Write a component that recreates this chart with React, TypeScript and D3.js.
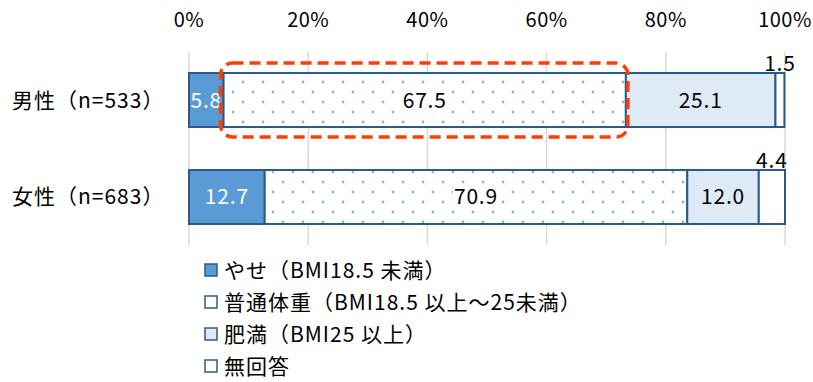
import React from "react";
import * as d3 from "d3";

const categories = ["男性（n=533）", "女性（n=683）"];
const seriesNames = ["やせ（BMI18.5 未満）", "普通体重（BMI18.5 以上～25未満）", "肥満（BMI25 以上）", "無回答"];
const yase = [5.8, 12.7];
const futsu = [67.5, 70.9];
const himan = [25.1, 12.0];
const mukaitou = [1.5, 4.4];
const tickValues = [0, 20, 40, 60, 80, 100];

const W = 813;
const H = 382;
const FONT = "'Noto Sans CJK JP', 'Noto Sans', sans-serif";
const STROKE = "#2B5A8A";

export default function App() {
  const x = d3.scaleLinear().domain([0, 100]).range([189, 785]);
  const y = d3.scaleBand().domain(categories).range([52, 245]).paddingInner(0.443).paddingOuter(0.2165);
  const series = [yase, futsu, himan, mukaitou];
  const fills = ["#5B9BD5", "url(#dots)", "#DEEBF7", "#FFFFFF"];
  const labelColors = ["#FFFFFF", "#000000", "#000000", "#000000"];

  const rows = categories.map((c, i) => {
    let acc = 0;
    return series.map((s, k) => {
      const v = s[i];
      const seg = { c, k, x0: acc, x1: acc + v, v };
      acc += v;
      return seg;
    });
  });

  const bw = y.bandwidth();
  const maleIdx = 0;
  const hl = rows[maleIdx][1];
  const hy = y(categories[maleIdx])!;

  return (
    <svg width={W} height={H} style={{ position: "absolute", left: 0, top: 0, background: "#fff" }}>
      <defs>
        <pattern id="dots" width={20} height={20} patternUnits="userSpaceOnUse" x={0} y={2}>
          <rect width={20} height={20} fill="#fff" />
          <circle cx={3} cy={0} r={1.4} fill="#86B6E4" />
          <circle cx={13} cy={10} r={1.4} fill="#86B6E4" />
          <circle cx={3} cy={20} r={1.4} fill="#86B6E4" />
        </pattern>
      </defs>
      {tickValues.map((t) => (
        <g key={t}>
          <line x1={x(t)} x2={x(t)} y1={52} y2={245} stroke="#D9D9D9" strokeWidth={1.5} />
          <text x={x(t)} y={27} textAnchor="middle" fontFamily={FONT} fontSize={20} letterSpacing={0.5} fill="#000">
            {t}%
          </text>
        </g>
      ))}
      {categories.map((c) => (
        <text key={c} x={12} y={y(c)! + bw / 2 + 7.5} fontFamily={FONT} fontSize={21} letterSpacing={1} fill="#000">
          {c}
        </text>
      ))}
      {rows.map((segs, i) =>
        segs.map((s) => (
          <rect
            key={`${i}-${s.k}`}
            x={x(s.x0)}
            y={y(s.c)!}
            width={x(s.x1) - x(s.x0)}
            height={bw}
            fill={fills[s.k]}
            stroke={STROKE}
            strokeWidth={2}
          />
        ))
      )}
      {rows.map((segs, i) =>
        segs.map((s) => {
          const label = s.v.toFixed(1);
          const isOutside = s.k === 3;
          const cx = (x(s.x0) + x(s.x1)) / 2;
          const cy = y(s.c)! + bw / 2;
          return (
            <g key={`l${i}-${s.k}`}>
              {s.k === 1 && <rect x={cx - 23} y={cy - 13} width={46} height={26} fill="#fff" />}
              <text
                x={cx}
                y={isOutside ? y(s.c)! - 1.5 : cy + 7.5}
                textAnchor="middle"
                fontFamily={FONT}
                fontSize={21}
                letterSpacing={0.8}
                fill={labelColors[s.k]}
              >
                {label}
              </text>
            </g>
          );
        })
      )}
      <rect
        x={x(hl.x0) - 3}
        y={hy - 10}
        width={x(hl.x1) - x(hl.x0) + 5}
        height={bw + 20}
        rx={12}
        ry={12}
        fill="none"
        stroke="#FF3D00"
        strokeWidth={3.5}
        strokeDasharray="11 6"
      />
      {seriesNames.map((n, k) => (
        <g key={n} transform={`translate(205, ${270 + k * 32})`}>
          <rect x={0} y={-6} width={12} height={12} fill={k === 1 ? "#fff" : fills[k]} stroke={STROKE} strokeWidth={1.5} />
          <text x={19} y={7.5} fontFamily={FONT} fontSize={21} letterSpacing={1} fill="#000">
            {n}
          </text>
        </g>
      ))}
    </svg>
  );
}
